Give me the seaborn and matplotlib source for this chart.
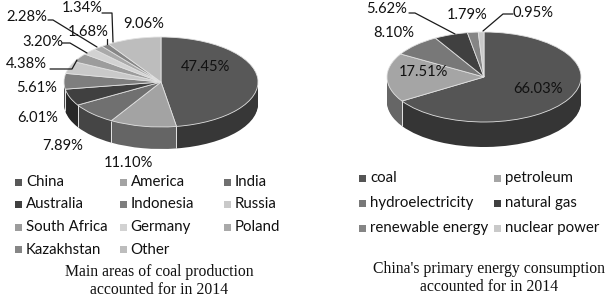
import numpy as np
import matplotlib
matplotlib.use('Agg')
import matplotlib.pyplot as plt
import seaborn as sns
from matplotlib.patches import Rectangle
from matplotlib.colors import to_rgb

sns.set_theme(style='white')
plt.rcParams['font.family'] = ['Lato', 'DejaVu Sans']

# ---------------- data ----------------
coal_regions = ['China', 'America', 'India', 'Australia', 'Indonesia', 'Russia',
                'South Africa', 'Germany', 'Poland', 'Kazakhstan', 'Other']
coal_shares = [47.45, 11.10, 7.89, 6.01, 5.61, 4.38, 3.20, 2.28, 1.68, 1.34, 9.06]
coal_colors = ['#585858', '#a3a3a3', '#707070', '#404040', '#7e7e7e', '#c9c9c9',
               '#9c9c9c', '#d2d2d2', '#a9a9a9', '#868686', '#bdbdbd']

energy_sources = ['coal', 'petroleum', 'hydroelectricity', 'natural gas',
                  'renewable energy', 'nuclear power']
energy_shares = [66.03, 17.51, 8.10, 5.62, 1.79, 0.95]
energy_colors = ['#555555', '#a5a5a5', '#787878', '#404040', '#858585', '#c9c9c9']

coal_title = 'Main areas of coal production\naccounted for in 2014'
energy_title = "China's primary energy consumption\naccounted for in 2014"

# ---------------- layout ----------------
W, H = 608, 301
RX, RY = 97, 45
S = RX / RY

fig = plt.figure(figsize=(W / 100, H / 100), dpi=100)
fig.patch.set_facecolor('white')
ax = fig.add_axes([0, 0, 1, 1])


def pie3d(values, colors, cx, cy, depth):
    side = [tuple(np.array(to_rgb(c)) * 0.62) for c in colors]
    for k in range(depth, 0, -1):
        ax.pie(values, colors=side, startangle=90, counterclock=False, radius=RX,
               center=(cx, (H - cy - k) * S), frame=True,
               wedgeprops=dict(linewidth=0))
    # white separators on the visible side
    cum = np.cumsum([0] + list(values))[:-1]
    for c in cum:
        th = np.deg2rad(90 - 360 * c / 100)
        if np.sin(th) < -0.02:
            x = cx + RX * np.cos(th)
            y = (H - cy) * S + RX * np.sin(th)
            ax.plot([x, x], [y, y - depth * S], color='#e6e6e6', lw=0.7,
                    solid_capstyle='butt')
    ax.pie(values, colors=colors, startangle=90, counterclock=False, radius=RX,
           center=(cx, (H - cy) * S), frame=True,
           wedgeprops=dict(linewidth=0.6, edgecolor='#e2e2e2'))


pie3d(coal_shares, coal_colors, 161, 82, 22)
pie3d(energy_shares, energy_colors, 484, 77, 25)
ax.set_aspect('auto')
ax.set_xlim(0, W)
ax.set_ylim(0, H * S)
ax.axis('off')

# overlay in pixel coords (y down)
ov = fig.add_axes([0, 0, 1, 1])
ov.set_xlim(0, W)
ov.set_ylim(H, 0)
ov.axis('off')

TC = '#111111'
PF = 10.6
# coal labels
coal_label_pos = [(206, 67), (128, 163), (63, 146), (38, 118), (37, 88), (26, 64),
                  (43, 42), (27, 17), (88, 32), (82, 8), (144, 24)]
for v, (x, y) in zip(coal_shares, coal_label_pos):
    ov.text(x, y, f'{v:.2f}%', ha='center', va='center', fontsize=PF, color=TC)

energy_label_pos = [(538, 89), (423, 72), (394, 33), (387, 9), (467, 15), (533, 13)]
for v, (x, y) in zip(energy_shares, energy_label_pos):
    ov.text(x, y, f'{v:.2f}%', ha='center', va='center', fontsize=PF, color=TC)

lk = dict(color='#1a1a1a', lw=0.9)
ov.plot([50, 72, 77], [69, 69, 60], **lk)
ov.plot([62, 70, 87], [43, 43, 53], **lk)
ov.plot([48, 53, 97], [20, 20, 47], **lk)
ov.plot([107, 107], [39, 44], **lk)
ov.plot([102, 112, 113], [13, 13, 42], **lk)
ov.plot([409, 415, 455], [13, 13, 34], **lk)
ov.plot([513, 503, 483], [14, 14, 31], **lk)

# legends
LF = 10.8
for i, (name, col) in enumerate(zip(coal_regions, coal_colors)):
    r, c = divmod(i, 3)
    x = 15 + c * 104.5
    y = 182 + r * 22.5
    ov.add_patch(Rectangle((x, y - 3.5), 7, 7, color=col, lw=0))
    ov.text(x + 11, y, name, ha='left', va='center', fontsize=LF, color=TC)

for i, (name, col) in enumerate(zip(energy_sources, energy_colors)):
    r, c = divmod(i, 2)
    x = 359 + c * 135
    y = 178 + r * 25
    ov.add_patch(Rectangle((x, y - 3.5), 7, 7, color=col, lw=0))
    ov.text(x + 11, y, name, ha='left', va='center', fontsize=LF, color=TC)

# titles
ov.text(159, 281, coal_title, ha='center', va='center', fontsize=11.3,
        family='Liberation Serif', color=TC, linespacing=1.1)
ov.text(489, 278, energy_title, ha='center', va='center', fontsize=11.3,
        family='Liberation Serif', color=TC, linespacing=1.1)

fig.savefig('out.png', dpi=100, facecolor='white')
